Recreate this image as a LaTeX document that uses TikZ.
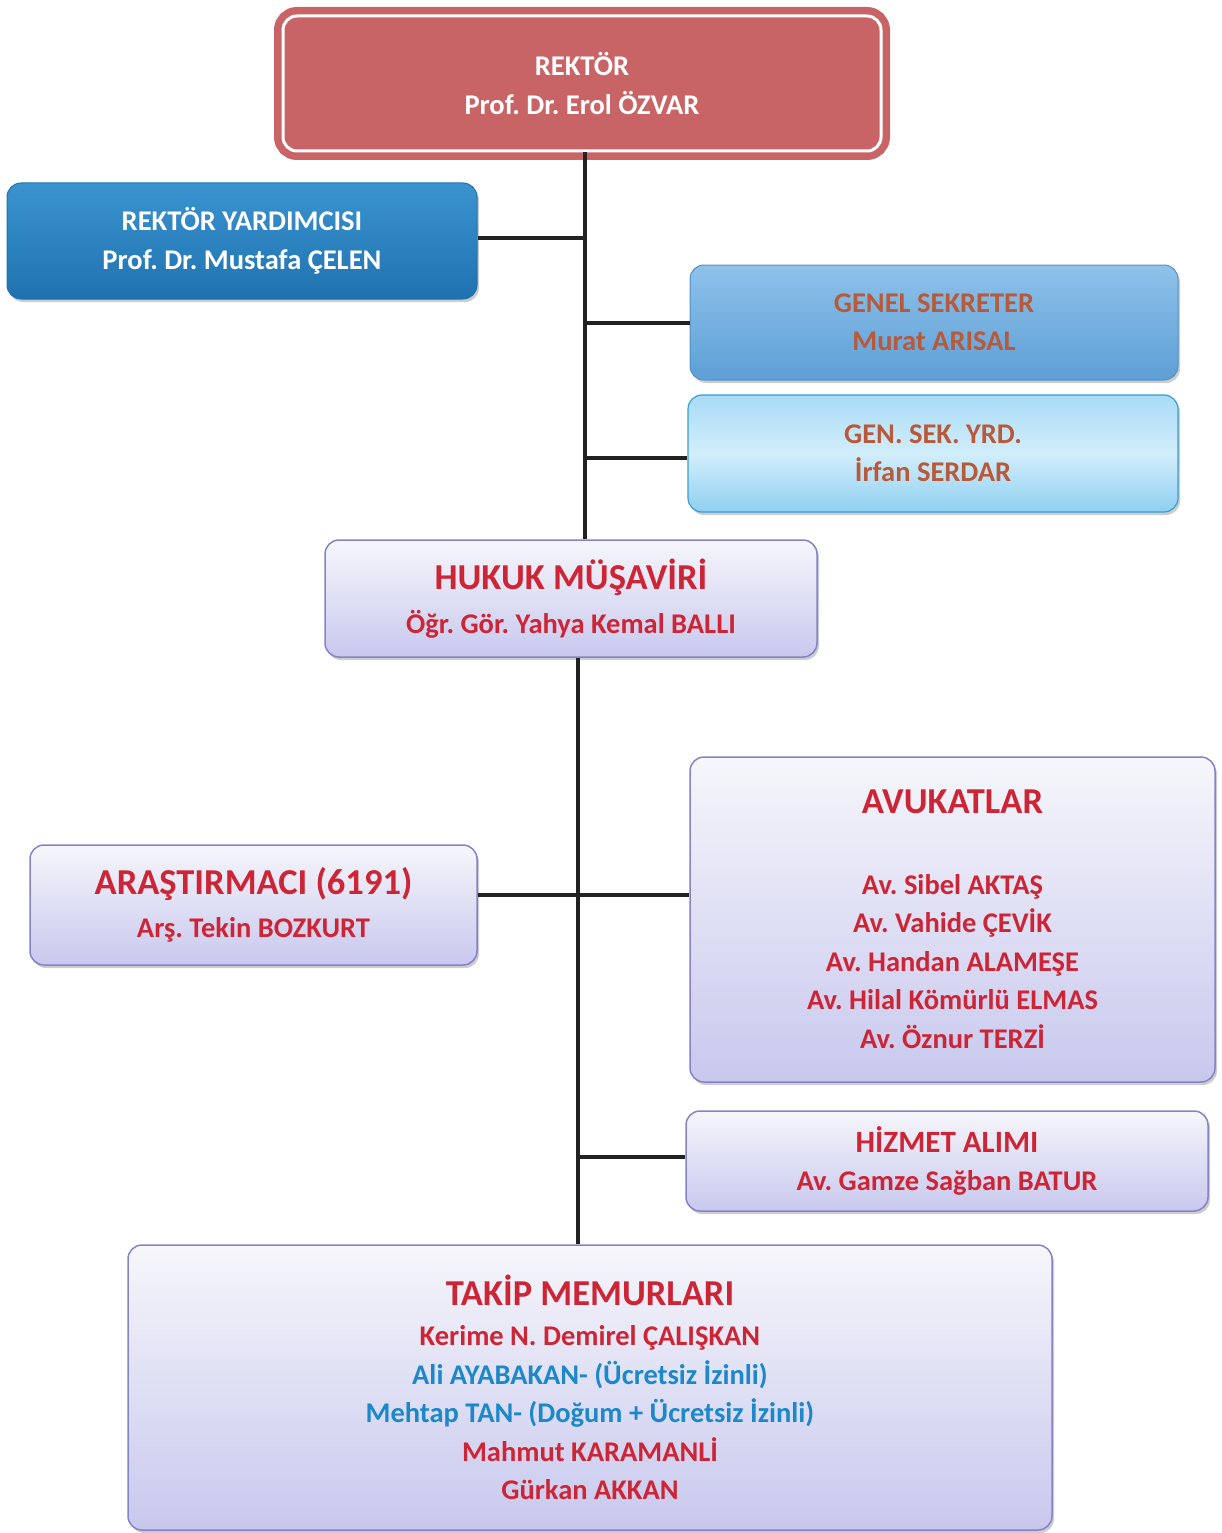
\documentclass[tikz,border=0pt]{standalone}
\usepackage{fontspec}
\setmainfont{Carlito}
\usetikzlibrary{shadows}
\definecolor{rekred}{HTML}{C96466}
\definecolor{yardblueT}{HTML}{3A93CF}
\definecolor{yardblueB}{HTML}{1F72B0}
\definecolor{gsT}{HTML}{8EC2EA}
\definecolor{gsB}{HTML}{5E9FD6}
\definecolor{gsline}{HTML}{5390C8}
\definecolor{gsyT}{HTML}{A9DBF6}
\definecolor{gsyM}{HTML}{D2EEFB}
\definecolor{gsyB}{HTML}{8FD0F1}
\definecolor{gsyline}{HTML}{3A9CD4}
\definecolor{lavT}{HTML}{F6F6FB}
\definecolor{lavB}{HTML}{C8C8EE}
\definecolor{lavline}{HTML}{8583C8}
\definecolor{txtred}{HTML}{CC2535}
\definecolor{txtblue}{HTML}{1C88C8}
\definecolor{txtbrown}{HTML}{B85A3A}
\definecolor{conncol}{HTML}{222222}
\begin{document}
\frenchspacing
\begin{tikzpicture}[x=1pt,y=-1pt,
  box/.style={rounded corners=14pt, align=center, inner sep=0pt, font=\bfseries,
    drop shadow={shadow xshift=2pt, shadow yshift=-3pt, opacity=0.28, fill=black!70}},
  lavbox/.style={box, draw=lavline, line width=1.5pt, top color=lavT, bottom color=lavB, text=txtred},
  conn/.style={draw=conncol, line width=4pt},
  small/.style={font=\bfseries\fontsize{28.5}{38.5}\selectfont}
]
\newcommand\bigtitle{\fontsize{36.5}{38.5}\selectfont}
\useasboundingbox (0,0) rectangle (1221,1533);
% boxes
\node[box, minimum width=598pt, minimum height=135pt, fill=rekred, draw=white, line width=3pt,
  preaction={draw=rekred, line width=18pt}, text=white, small] (rektor) at (582,83.5)
  {REKTÖR\\Prof. Dr. Erol ÖZVAR};
\node[box, minimum width=470pt, minimum height=116pt, top color=yardblueT, bottom color=yardblueB,
  draw=yardblueB, line width=1pt, text=white, small] (yard) at (242,241)
  {REKTÖR YARDIMCISI\\Prof. Dr. Mustafa ÇELEN};
\node[box, minimum width=488pt, minimum height=115pt, top color=gsT, bottom color=gsB,
  draw=gsline, line width=1pt, text=txtbrown, small] (gs) at (934,322.5)
  {GENEL SEKRETER\\Murat ARISAL};
\node[box, minimum width=490pt, minimum height=117pt, top color=gsyT, bottom color=gsyB, middle color=gsyM,
  draw=gsyline, line width=1.2pt, text=txtbrown, small] (gsy) at (933,453.5)
  {GEN. SEK. YRD.\\İrfan SERDAR};
\node[lavbox, minimum width=492pt, minimum height=117pt, small] (hukuk) at (571,598.5)
  {{\bigtitle HUKUK MÜŞAVİRİ}\\[5pt]Öğr. Gör. Yahya Kemal BALLI};
\node[lavbox, minimum width=447pt, minimum height=120pt, small] (arast) at (253.5,905)
  {{\bigtitle ARAŞTIRMACI (6191)}\\[4pt]Arş. Tekin BOZKURT};
\node[lavbox, minimum width=525pt, minimum height=325pt, small] (avuk) at (952.5,919.5)
  {{\bigtitle AVUKATLAR}\\[42pt]Av. Sibel AKTAŞ\\Av. Vahide ÇEVİK\\Av. Handan ALAMEŞE\\Av. Hilal Kömürlü ELMAS\\Av. Öznur TERZİ};
\node[lavbox, minimum width=522pt, minimum height=100pt, small] (hizmet) at (947,1161)
  {{\fontsize{31}{38.5}\selectfont HİZMET ALIMI}\\Av. Gamze Sağban BATUR};
\node[lavbox, minimum width=924pt, minimum height=285pt, small] (takip) at (590,1387.5)
  {{\bigtitle TAKİP MEMURLARI}\\[2pt]Kerime N. Demirel ÇALIŞKAN\\
   \textcolor{txtblue}{Ali AYABAKAN- (Ücretsiz İzinli)}\\
   \textcolor{txtblue}{Mehtap TAN- (Doğum + Ücretsiz İzinli)}\\
   Mahmut KARAMANLİ\\Gürkan AKKAN};
% connectors
\coordinate (tA) at (585,0);
\coordinate (tB) at (578,0);
\coordinate (jA) at (578,895);
\draw[conn] (rektor.south -| tA) -- (hukuk.north -| tA);
\draw[conn] ([yshift=3pt]yard.east) -- ([yshift=3pt]yard.east -| tA);
\draw[conn] (gs.west -| tA) -- (gs.west);
\draw[conn] ([yshift=-4pt]gsy.west -| tA) -- ([yshift=-4pt]gsy.west);
\draw[conn] (hukuk.south -| tB) -- (takip.north -| tB);
\draw[conn] (jA -| arast.east) -- (jA);
\draw[conn] (jA) -- (jA -| avuk.west);
\draw[conn] ([yshift=4pt]hizmet.west -| tB) -- ([yshift=4pt]hizmet.west);
\end{tikzpicture}
\end{document}
